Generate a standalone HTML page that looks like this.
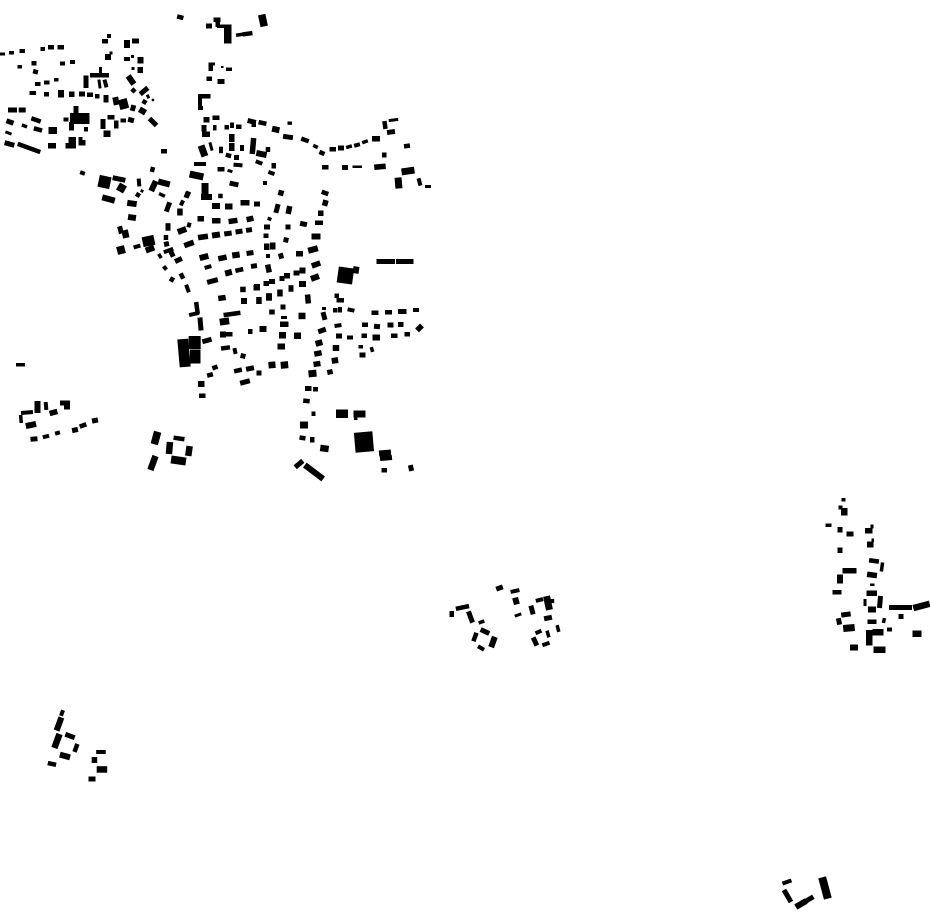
<!DOCTYPE html>
<html><head><meta charset="utf-8"><title>Map</title>
<style>
html,body{margin:0;padding:0;background:#fff}
svg{display:block}
rect{fill:#000;transform-box:fill-box;transform-origin:center}
.a5{transform:rotate(5deg)}.a8{transform:rotate(8deg)}.a12{transform:rotate(12deg)}.a15{transform:rotate(15deg)}.a20{transform:rotate(20deg)}.a25{transform:rotate(25deg)}.a30{transform:rotate(30deg)}.a37{transform:rotate(37deg)}.a45{transform:rotate(45deg)}.a55{transform:rotate(55deg)}
.n5{transform:rotate(-5deg)}.n8{transform:rotate(-8deg)}.n12{transform:rotate(-12deg)}.n15{transform:rotate(-15deg)}.n20{transform:rotate(-20deg)}.n25{transform:rotate(-25deg)}.n30{transform:rotate(-30deg)}.n40{transform:rotate(-40deg)}.n45{transform:rotate(-45deg)}
</style></head><body>
<svg xmlns="http://www.w3.org/2000/svg" width="930" height="924" viewBox="0 0 930 924">
<rect x=0 y=52.5 width=5 height=3 />
<rect x=9 y=51 width=5 height=3.5 />
<rect x=19.5 y=49 width=5.5 height=4 />
<rect x=40.5 y=47 width=4.5 height=4 />
<rect x=48 y=45 width=6 height=4.5 />
<rect x=57.5 y=45 width=6.5 height=4.5 />
<rect x=17.5 y=65 width=4.5 height=3.5 />
<rect x=31.5 y=61 width=5 height=4.5 />
<rect x=33 y=69.5 width=5 height=4.5 class=a15 />
<rect x=35 y=82 width=5.5 height=4 />
<rect x=44 y=80.5 width=5.5 height=4 />
<rect x=54 y=78 width=4.5 height=3.5 />
<rect x=60 y=61.5 width=5 height=4 />
<rect x=70 y=60 width=5 height=4 />
<rect x=29.5 y=91 width=6.5 height=4 />
<rect x=44 y=92 width=5 height=4.5 />
<rect x=58 y=90 width=6 height=7.5 />
<rect x=69 y=91.5 width=5.5 height=5.5 />
<rect x=79 y=91.5 width=6 height=5 />
<rect x=87 y=92.5 width=6 height=4.5 />
<rect x=95 y=94 width=4.5 height=4.5 />
<rect x=103.5 y=95 width=5 height=7.5 />
<rect x=113 y=97 width=6 height=8 class=n12 />
<rect x=119 y=99 width=9 height=10 class=n15 />
<rect x=130.5 y=105 width=5 height=6 class=a15 />
<rect x=139 y=108 width=7 height=6 class=a30 />
<rect x=148 y=119.5 width=10 height=5 class=a45 />
<rect x=83.5 y=75.5 width=5 height=12.5 />
<rect x=99 y=67 width=3 height=7 />
<rect x=90 y=73 width=19 height=4.5 />
<rect x=98 y=79.5 width=3 height=9 class=n8 />
<rect x=103.5 y=79.5 width=4 height=8 class=n15 />
<rect x=102 y=39 width=6 height=4.5 />
<rect x=107 y=34 width=4 height=4 />
<rect x=124 y=40 width=6 height=8 />
<rect x=132 y=38.5 width=7 height=5 />
<rect x=105 y=54 width=6 height=6 />
<rect x=109.5 y=51.5 width=3 height=3 />
<rect x=124 y=57 width=6 height=4 />
<rect x=131 y=55 width=3 height=3 />
<rect x=137.5 y=57 width=6 height=6.5 />
<rect x=131.5 y=67 width=3 height=3 />
<rect x=137.5 y=67 width=5.5 height=6 />
<rect x=126 y=77 width=10 height=6 class=a55 />
<rect x=131.2 y=88.2 width=4.5 height=4.5 class=a45 />
<rect x=139 y=88.5 width=10 height=5 class=n40 />
<rect x=146.5 y=94.5 width=3 height=4 class=n25 />
<rect x=151.7 y=98.7 width=2.5 height=2.5 />
<rect x=142.2 y=99.7 width=4.5 height=4.5 class=a30 />
<rect x=73.5 y=106 width=5 height=7.5 />
<rect x=70 y=113 width=19.5 height=11 />
<rect x=63.5 y=117.5 width=5 height=4 />
<rect x=69 y=122 width=5 height=8.5 />
<rect x=84 y=127 width=4 height=4.5 />
<rect x=68.5 y=137 width=7.5 height=11.5 />
<rect x=65.5 y=143 width=3.5 height=5.5 />
<rect x=78.5 y=137 width=4 height=8.5 />
<rect x=82.5 y=140 width=3 height=5.5 />
<rect x=107.5 y=115 width=7 height=4.5 />
<rect x=100.5 y=119 width=5 height=10 />
<rect x=114 y=120.5 width=4.5 height=8 />
<rect x=103.5 y=130.5 width=7 height=6.5 />
<rect x=120.5 y=118.5 width=5.5 height=4 />
<rect x=128 y=117.5 width=6 height=5 class=a15 />
<rect x=8 y=107.5 width=9 height=5 />
<rect x=18.7 y=107.5 width=7 height=5 />
<rect x=6.2 y=119.5 width=7.5 height=5 class=a20 />
<rect x=31 y=117.7 width=10 height=4.5 class=a20 />
<rect x=21.7 y=124.2 width=5.5 height=3.5 class=a20 />
<rect x=33.7 y=127.2 width=8.5 height=4.5 class=a15 />
<rect x=48.5 y=127 width=8.5 height=7 />
<rect x=5.2 y=131.5 width=6.5 height=3 class=a20 />
<rect x=4.5 y=141.5 width=10 height=5 class=a15 />
<rect x=17 y=145.7 width=24 height=4.5 class=a20 />
<rect x=48 y=143 width=8 height=5.5 />
<rect x=161 y=149 width=6 height=4.5 />
<rect x=80 y=171 width=5 height=4 class=a20 />

<rect x=177 y=15 width=6.5 height=4.5 class=a15 />
<rect x=206 y=23.5 width=6 height=5 />
<rect x=213.5 y=17.5 width=7 height=4.5 />
<rect x=215.5 y=22 width=4.5 height=5 />
<rect x=217 y=24.5 width=8 height=3.5 />
<rect x=224 y=24.5 width=7.5 height=19 />
<rect x=236 y=33 width=7 height=3.5 class=n8 />
<rect x=242.5 y=31.5 width=10 height=4.5 class=n8 />
<rect x=259.2 y=14.5 width=7.5 height=12 class=n12 />
<rect x=208.5 y=62.5 width=4.5 height=8.5 />
<rect x=212 y=62.5 width=3 height=3 />
<rect x=221 y=66 width=2.5 height=2 />
<rect x=226 y=67.5 width=6 height=3.5 />
<rect x=206.5 y=76.5 width=5.5 height=4.5 />
<rect x=217.5 y=79 width=7 height=5 />
<rect x=198 y=94 width=12.5 height=4.5 />
<rect x=198 y=98 width=4 height=8 />
<rect x=198 y=106 width=5 height=4 />
<rect x=203.5 y=117 width=6 height=5.5 />
<rect x=212.5 y=115.5 width=7 height=4.5 />
<rect x=201.5 y=125 width=5 height=6.5 />
<rect x=202 y=131.5 width=8 height=5.5 />
<rect x=213 y=125 width=3.5 height=5.5 />
<rect x=224.5 y=125 width=4.5 height=4.5 />
<rect x=230 y=122.5 width=4 height=5.5 />
<rect x=236 y=124.5 width=5.5 height=4.5 />
<rect x=247.5 y=119 width=8.5 height=5 class=a15 />
<rect x=251.5 y=121 width=4.5 height=6 />
<rect x=258.5 y=120.7 width=8 height=4.5 class=a12 />
<rect x=272 y=126.5 width=7.5 height=6 class=a12 />
<rect x=287.5 y=121.5 width=4.5 height=3.3 />
<rect x=283 y=134.5 width=10 height=5 class=a8 />
<rect x=301 y=137.7 width=8 height=4.5 class=a20 />
<rect x=313 y=144.7 width=5 height=3.5 class=a25 />
<rect x=319.2 y=150.7 width=5.5 height=4.5 class=a25 />
<rect x=329.5 y=147 width=6.5 height=4.5 />
<rect x=338 y=145.5 width=6 height=5 />
<rect x=346 y=145 width=6 height=3.5 class=n15 />
<rect x=354 y=143 width=6 height=4 class=n15 />
<rect x=362 y=140 width=6 height=3.5 class=n20 />
<rect x=372 y=136 width=8 height=5.5 />
<rect x=382.7 y=121 width=4.5 height=8 class=n8 />
<rect x=388.7 y=118.5 width=9.5 height=3 class=n8 />
<rect x=387 y=129.5 width=8 height=5 class=n8 />
<rect x=404 y=143.7 width=6 height=4.5 class=n8 />
<rect x=382 y=152.5 width=4.5 height=5 />
<rect x=322 y=165 width=6.5 height=4.5 />
<rect x=342 y=165 width=6 height=5 />
<rect x=352.5 y=165.5 width=9.5 height=2.5 />
<rect x=374.2 y=164 width=11.5 height=5.5 class=n5 />
<rect x=401.5 y=167.5 width=13 height=7 class=n8 />
<rect x=395 y=177.5 width=7 height=11 class=n5 />
<rect x=417.5 y=178.2 width=4 height=7.5 class=n15 />
<rect x=425 y=185 width=6 height=3 />

<rect x=199.5 y=145.2 width=7 height=11.5 class=n20 />
<rect x=209.5 y=142.2 width=3 height=8.5 class=n15 />
<rect x=219 y=146.7 width=4 height=6.5 />
<rect x=229 y=134 width=5.5 height=8 />
<rect x=229 y=143 width=5.5 height=8 />
<rect x=240 y=145 width=4 height=6 />
<rect x=250.2 y=138 width=5.5 height=16 class=a5 />
<rect x=256.2 y=151 width=10.5 height=6 class=a12 />
<rect x=265.7 y=147 width=4.5 height=5 />
<rect x=225.7 y=153.2 width=5.5 height=4.5 class=a15 />
<rect x=234 y=155 width=5 height=5 />
<rect x=194 y=162 width=12 height=4 />
<rect x=217.5 y=167 width=7 height=4.5 />
<rect x=227.5 y=169.5 width=5 height=3 class=a15 />
<rect x=233.5 y=163 width=9 height=4 class=a5 />
<rect x=255.5 y=160.5 width=7 height=4 class=a20 />
<rect x=271.5 y=163 width=4.5 height=5.5 />
<rect x=268.2 y=171 width=6.5 height=4 class=a20 />
<rect x=263 y=181 width=4 height=4 />
<rect x=229.5 y=181.5 width=9 height=5 class=a12 />
<rect x=189.5 y=172 width=14 height=7 class=a12 />
<rect x=278.2 y=190.2 width=5.5 height=5.5 class=a15 />
<rect x=321.5 y=190.7 width=7 height=4.5 class=a20 />
<rect x=184.5 y=192 width=5 height=6 class=a20 />
<rect x=218.2 y=193.7 width=4.5 height=4.5 />

<rect x=150.2 y=167 width=4.5 height=5 class=a15 />
<rect x=98.5 y=176 width=12 height=12 class=a12 />
<rect x=112.5 y=176.5 width=13 height=5 class=a12 />
<rect x=117.5 y=184 width=8 height=8 class=a30 />
<rect x=102 y=196 width=13 height=6 class=a15 />
<rect x=137 y=178.5 width=4 height=8 class=n5 />
<rect x=140.5 y=189.5 width=3 height=3 class=a30 />
<rect x=135.7 y=192.7 width=4.5 height=4.5 class=a30 />
<rect x=150.5 y=180.5 width=6 height=11 class=a25 />
<rect x=158 y=180 width=12 height=6 class=a15 />
<rect x=158.7 y=193.2 width=6.5 height=3.5 class=a25 />
<rect x=127.2 y=200.5 width=9.5 height=6 class=a8 />
<rect x=128 y=214.5 width=8 height=6 class=a8 />
<rect x=185 y=191.2 width=5 height=6.5 class=a25 />
<rect x=180 y=200.2 width=4 height=5.5 class=a25 />
<rect x=177.2 y=208.5 width=5.5 height=7 />
<rect x=165.5 y=202 width=5 height=10 class=a20 />
<rect x=165.5 y=223.2 width=5 height=7.5 />
<rect x=163.7 y=235 width=4.5 height=5 />
<rect x=164 y=241.5 width=5 height=5 class=n12 />
<rect x=187 y=222.5 width=4 height=5 class=a15 />
<rect x=177.5 y=227.5 width=9 height=6 class=n20 />
<rect x=197.5 y=216 width=6.5 height=5.5 />
<rect x=212 y=218 width=8.5 height=5.5 />
<rect x=228.5 y=218.2 width=9 height=5.5 class=n8 />
<rect x=246.5 y=216.2 width=7 height=5.5 class=n12 />
<rect x=212 y=203 width=8 height=6 />
<rect x=225 y=203.5 width=7.5 height=6 />
<rect x=240.5 y=200 width=9 height=5.5 />
<rect x=254 y=201.5 width=6 height=5 />
<rect x=201.5 y=183 width=7 height=16 />
<rect x=201 y=194 width=11 height=6 />
<rect x=118 y=226.2 width=5 height=7.5 class=n15 />
<rect x=122.2 y=230 width=6.5 height=8 class=n12 />
<rect x=117 y=246 width=8 height=8 class=n15 />
<rect x=133.5 y=244.5 width=7 height=4 class=n15 />
<rect x=142.5 y=236 width=12 height=10 class=n12 />
<rect x=145.5 y=246 width=9 height=6 class=n20 />
<rect x=163.5 y=248.5 width=10 height=4 class=n20 />
<rect x=169.5 y=251 width=5 height=6 class=n25 />
<rect x=174.7 y=257.5 width=7.5 height=5 class=n25 />
<rect x=158.2 y=253.5 width=3.5 height=5 class=n30 />
<rect x=163 y=265.7 width=4 height=4.5 class=n40 />
<rect x=179.7 y=273 width=4.5 height=6 class=n25 />
<rect x=169.7 y=277 width=4.5 height=5 class=a30 />
<rect x=185.5 y=284.5 width=4 height=8 class=n20 />
<rect x=184 y=241.2 width=10 height=5.5 class=n20 />
<rect x=198 y=234.2 width=10 height=5.5 class=n8 />
<rect x=212 y=232 width=8 height=6 class=n8 />
<rect x=224.2 y=231 width=7.5 height=5 class=n8 />
<rect x=235.5 y=229 width=7 height=5 class=n8 />
<rect x=246 y=227.5 width=6 height=5 class=n8 />
<rect x=199.5 y=254 width=9 height=6 class=n15 />
<rect x=218.2 y=255.2 width=8.5 height=5.5 class=n12 />
<rect x=232.2 y=252 width=7.5 height=6 class=n8 />
<rect x=246.5 y=250.5 width=7 height=5 class=n8 />
<rect x=204.5 y=265 width=7 height=4 class=n15 />
<rect x=225 y=269.7 width=7 height=6 class=n15 />
<rect x=235.3 y=267.7 width=8 height=4.5 class=n12 />
<rect x=251 y=263.5 width=6 height=5 class=n8 />
<rect x=207 y=278.5 width=11 height=5 class=n15 />
<rect x=240.2 y=286.7 width=5.5 height=5.5 />
<rect x=254 y=284 width=6 height=6 />
<rect x=218.2 y=295.2 width=7.5 height=5.5 class=n8 />
<rect x=241 y=298 width=6 height=6 />
<rect x=194.7 y=302 width=4.5 height=12 class=n8 />
<rect x=189 y=312 width=10 height=4 class=n12 />
<rect x=223.5 y=311.7 width=17 height=4.5 class=n8 />

<rect x=322.5 y=200 width=5.5 height=6 class=a15 />
<rect x=318 y=210.5 width=5.5 height=5.5 />
<rect x=315 y=220.5 width=8 height=4.5 />
<rect x=311.5 y=233.5 width=9 height=6 />
<rect x=308 y=246.5 width=10 height=6 class=n15 />
<rect x=311.5 y=261.7 width=9 height=5.5 class=n20 />
<rect x=310.7 y=274.5 width=8.5 height=6 class=n20 />
<rect x=274.5 y=204 width=5 height=9 class=a15 />
<rect x=286.2 y=206 width=5.5 height=8 class=a12 />
<rect x=267.5 y=217.2 width=4 height=3.5 class=a20 />
<rect x=300 y=221.5 width=7 height=5 class=a12 />
<rect x=264 y=224.5 width=6 height=5 />
<rect x=285.5 y=224.5 width=5 height=5 />
<rect x=263.5 y=233.5 width=5 height=4.5 />
<rect x=283.5 y=237.5 width=5 height=5 class=a12 />
<rect x=264 y=243.5 width=5.5 height=6.5 />
<rect x=270 y=242.5 width=5.5 height=7 />
<rect x=266 y=254 width=4 height=4 />
<rect x=278.5 y=253.2 width=5 height=5.5 class=n15 />
<rect x=296 y=251 width=7 height=5.5 />
<rect x=265.7 y=264.5 width=5.5 height=8 class=n12 />
<rect x=253.5 y=285 width=6.5 height=5.5 />
<rect x=263.5 y=281 width=5.5 height=5 />
<rect x=269 y=279 width=6 height=5 />
<rect x=279.5 y=276 width=5 height=5 />
<rect x=284 y=273 width=6 height=5.5 />
<rect x=293.5 y=270.5 width=6 height=5 />
<rect x=299.5 y=267.5 width=6 height=6 />
<rect x=299 y=281 width=7 height=6 />
<rect x=288.5 y=285.2 width=5 height=6.5 />
<rect x=277.2 y=289.5 width=5.5 height=7 />
<rect x=266 y=293.2 width=6 height=7.5 />
<rect x=256.2 y=297 width=5.5 height=7 />
<rect x=305.2 y=294.5 width=5.5 height=9 class=n5 />
<rect x=269.2 y=309.5 width=5.5 height=5 />
<rect x=280.5 y=304.5 width=5 height=5 />
<rect x=298.5 y=312.7 width=7 height=6.5 />
<rect x=281 y=316 width=6 height=3 />
<rect x=337.7 y=267.5 width=15.5 height=16 class=a8 />
<rect x=353 y=266.5 width=6 height=7 class=a8 />
<rect x=376.5 y=259 width=18.5 height=5 />
<rect x=396 y=259 width=17.5 height=5 />
<rect x=334.5 y=293.5 width=4.5 height=4.5 />
<rect x=336.5 y=298 width=7.5 height=4.5 />
<rect x=322 y=307 width=4 height=3 />
<rect x=321.5 y=312 width=5 height=8 class=n15 />
<rect x=333 y=308 width=4.5 height=4.5 />
<rect x=338 y=307 width=4 height=5.5 />
<rect x=347.5 y=308 width=7 height=4 class=a12 />
<rect x=371.5 y=310.5 width=7 height=4.5 />
<rect x=385 y=310 width=7 height=4.5 />
<rect x=398 y=309 width=8.5 height=5 />
<rect x=413 y=308 width=6 height=4 />

<rect x=198 y=317.5 width=5 height=13 class=n5 />
<rect x=219.7 y=318 width=9.5 height=7 class=n8 />
<rect x=220 y=331.5 width=6 height=6 />
<rect x=226 y=332 width=6.5 height=4.5 />
<rect x=202.2 y=338 width=9.5 height=5 class=n15 />
<rect x=188.7 y=336 width=12 height=13 />
<rect x=190 y=349.5 width=10.5 height=14 />
<rect x=178.5 y=339 width=11 height=28 class=n5 />
<rect x=221 y=345.7 width=9 height=4.5 class=n8 />
<rect x=233 y=348 width=4 height=6 class=n12 />
<rect x=240.5 y=353.5 width=5 height=5 class=a15 />
<rect x=212.2 y=365.2 width=5.5 height=4.5 class=n20 />
<rect x=207 y=372.7 width=6 height=4.5 class=n15 />
<rect x=248 y=329 width=4.5 height=5 />
<rect x=259.5 y=326 width=7 height=6 />
<rect x=280 y=321.5 width=8.5 height=5.5 />
<rect x=279 y=332 width=7 height=6.5 />
<rect x=277.5 y=343.5 width=7.5 height=6 />
<rect x=294 y=332.5 width=7 height=6.5 />
<rect x=198 y=381 width=6.5 height=6 />
<rect x=199 y=393.5 width=6.5 height=4.5 />
<rect x=234 y=368.2 width=8 height=4.5 class=n12 />
<rect x=246 y=366 width=8 height=5 class=n12 />
<rect x=256.5 y=370.5 width=5 height=5 />
<rect x=268.5 y=361.7 width=7 height=6.5 class=n5 />
<rect x=280.7 y=361.5 width=7.5 height=7 class=n5 />
<rect x=240 y=379.5 width=10 height=5 class=n15 />
<rect x=334.5 y=323.5 width=7 height=4 class=n8 />
<rect x=336 y=333.5 width=6 height=5 />
<rect x=347 y=335.5 width=6 height=4 />
<rect x=318 y=328 width=8 height=5 class=n20 />
<rect x=315.5 y=340 width=7 height=6 class=n15 />
<rect x=314.2 y=350.7 width=7.5 height=5.5 class=n12 />
<rect x=332.7 y=345 width=6.5 height=6 />
<rect x=313.5 y=361.2 width=7 height=5.5 class=n8 />
<rect x=331.7 y=357.5 width=6.5 height=6 class=n8 />
<rect x=308.5 y=370 width=8 height=7 class=n5 />
<rect x=327.2 y=369.5 width=5.5 height=5 class=n12 />
<rect x=305 y=386 width=6.5 height=5 />
<rect x=313 y=387 width=5 height=4.5 />
<rect x=303.2 y=398.7 width=6.5 height=4.5 class=a5 />
<rect x=311.5 y=411.5 width=4 height=4.5 />
<rect x=336 y=409.5 width=12 height=8.5 />
<rect x=353.5 y=410.5 width=12 height=7 />
<rect x=354 y=417 width=3.5 height=3 />
<rect x=300 y=421.5 width=8 height=7 />
<rect x=299.5 y=435.7 width=6 height=4.5 class=a8 />
<rect x=310 y=437 width=4.5 height=5.5 />
<rect x=320.2 y=445.2 width=8.5 height=6.5 class=a8 />
<rect x=354.7 y=432 width=18.5 height=20 class=n5 />
<rect x=379 y=450 width=12 height=6 class=n5 />
<rect x=380 y=455.5 width=12 height=5 class=n5 />
<rect x=381.5 y=468 width=5.5 height=4.5 />
<rect x=408.5 y=465 width=5 height=6 class=n12 />
<rect x=294 y=461.5 width=10 height=5 class=n40 />
<rect x=302.5 y=469 width=23 height=6 class=a37 />
<rect x=362 y=322.5 width=6 height=4.5 />
<rect x=374 y=324 width=6 height=5 class=a5 />
<rect x=387.5 y=322.5 width=6 height=5 />
<rect x=398 y=322 width=5.5 height=5 />
<rect x=416 y=325.2 width=7 height=5.5 class=n45 />
<rect x=361.5 y=333.5 width=5.5 height=4.5 />
<rect x=372.5 y=334.5 width=7.5 height=6 />
<rect x=391 y=333.5 width=6.5 height=4.5 />
<rect x=404.5 y=332 width=5.5 height=4.5 />
<rect x=358.5 y=345 width=4.5 height=3.5 />
<rect x=359.5 y=352.5 width=6 height=5 />
<rect x=370.2 y=347 width=3.5 height=5 class=n15 />

<rect x=16 y=363 width=9 height=3.5 />
<rect x=21 y=410.5 width=12 height=4 class=n5 />
<rect x=19.2 y=415 width=3.5 height=8 class=n5 />
<rect x=34.5 y=401 width=6 height=12 />
<rect x=44 y=402 width=4 height=8 class=n5 />
<rect x=49.5 y=409.7 width=8 height=5.5 class=n15 />
<rect x=60 y=400.5 width=10 height=5 />
<rect x=64 y=405 width=6 height=4.5 />
<rect x=25.7 y=422 width=10.5 height=6 class=n12 />
<rect x=30.5 y=436.5 width=7 height=5 class=n5 />
<rect x=42.7 y=434.5 width=6.5 height=4 class=n15 />
<rect x=55 y=431 width=5 height=4 class=n15 />
<rect x=72 y=427.5 width=6 height=5 class=n12 />
<rect x=79.5 y=423.2 width=7 height=4.5 class=n20 />
<rect x=92 y=418 width=6 height=5 class=n12 />
<rect x=152.2 y=431.5 width=7.5 height=13 class=a15 />
<rect x=149.7 y=455.5 width=6.5 height=15 class=a20 />
<rect x=173.5 y=436.2 width=11 height=4.5 class=a8 />
<rect x=166.2 y=442 width=6.5 height=12 class=a5 />
<rect x=185.7 y=446 width=6.5 height=10 class=a8 />
<rect x=171 y=456.5 width=15 height=8 class=a8 />

<rect x=841.5 y=498 width=4 height=3.5 />
<rect x=838.5 y=505.5 width=4 height=4 />
<rect x=841 y=508 width=6.5 height=7.5 />
<rect x=825.5 y=523.5 width=6 height=3.5 />
<rect x=837.5 y=527 width=5 height=5.5 />
<rect x=846.5 y=531.5 width=7 height=5 />
<rect x=865 y=528 width=7.5 height=5.5 />
<rect x=870.5 y=524.5 width=3 height=4 />
<rect x=867 y=541.5 width=6.5 height=6 />
<rect x=871.5 y=538.5 width=2.5 height=3.5 />
<rect x=837.5 y=547.5 width=5 height=5.5 />
<rect x=869 y=558.7 width=10 height=4.5 class=a8 />
<rect x=880.2 y=562.5 width=3.5 height=9 class=a8 />
<rect x=842.5 y=568 width=14 height=5.5 />
<rect x=837 y=574.5 width=6 height=9 />
<rect x=867 y=572.2 width=10 height=5.5 class=a8 />
<rect x=870 y=583.5 width=4.5 height=2.5 />
<rect x=832.5 y=590 width=9 height=4.5 />
<rect x=866.5 y=590.5 width=10.5 height=5.5 />
<rect x=863.5 y=599 width=3 height=7 />
<rect x=877.5 y=596 width=5 height=12 class=a5 />
<rect x=868 y=606.5 width=8 height=6 />
<rect x=889 y=605 width=23 height=5 />
<rect x=913 y=602.7 width=17 height=6.5 class=n15 />
<rect x=841.2 y=612 width=9.5 height=5 class=n8 />
<rect x=836.5 y=618.2 width=5 height=6.5 class=n12 />
<rect x=843.2 y=624.5 width=11.5 height=7 class=n5 />
<rect x=867.5 y=619.5 width=9 height=4.5 />
<rect x=882.2 y=618 width=3.5 height=5 class=a12 />
<rect x=898.5 y=614 width=5 height=5 />
<rect x=887 y=627.5 width=5 height=4 />
<rect x=872.5 y=629 width=11 height=6.5 />
<rect x=866 y=630 width=6.5 height=15.5 />
<rect x=912.5 y=630.5 width=9 height=6.5 />
<rect x=850 y=644.5 width=8 height=6 />
<rect x=873.5 y=646.5 width=12 height=6.5 />

<rect x=449.5 y=611 width=4.5 height=6 />
<rect x=455.7 y=605.2 width=13.5 height=4.5 class=n12 />
<rect x=468 y=611 width=5 height=12 class=n20 />
<rect x=478.5 y=620.2 width=6 height=3.5 class=n20 />
<rect x=480.2 y=629 width=9.5 height=5 class=a25 />
<rect x=472.7 y=632.5 width=4.5 height=9 class=a20 />
<rect x=490 y=636.5 width=6 height=11 class=a20 />
<rect x=477.5 y=646 width=7 height=4 class=a30 />
<rect x=496 y=585.5 width=7 height=5 class=n20 />
<rect x=510.5 y=589 width=9 height=4 class=n12 />
<rect x=513 y=597.5 width=6 height=7 class=n15 />
<rect x=514.5 y=613.5 width=7 height=3 class=n20 />
<rect x=529.5 y=605.5 width=5 height=9 class=n15 />
<rect x=535.7 y=598 width=7.5 height=4 class=n15 />
<rect x=544.5 y=596 width=7 height=14 class=n12 />
<rect x=549.7 y=599 width=4.5 height=4 />
<rect x=544 y=615.5 width=8 height=5 class=n12 />
<rect x=535.2 y=630 width=6.5 height=4 class=n25 />
<rect x=532.5 y=637 width=5 height=9 class=n25 />
<rect x=546.2 y=630.5 width=3.5 height=7 class=n15 />
<rect x=542.2 y=642 width=7.5 height=4 class=n20 />
<rect x=556.2 y=625 width=3.5 height=7 class=n15 />

<rect x=60 y=710 width=4 height=6 class=a20 />
<rect x=56 y=717 width=6 height=14 class=a20 />
<rect x=53.7 y=733.5 width=6.5 height=15 class=a20 />
<rect x=65 y=733.5 width=10 height=5 class=a20 />
<rect x=73.7 y=743.7 width=4.5 height=8.5 class=a20 />
<rect x=59.7 y=753 width=10.5 height=6 class=a15 />
<rect x=47.7 y=761.7 width=8.5 height=4.5 class=a12 />
<rect x=96.2 y=750 width=9.5 height=4 />
<rect x=91.7 y=757 width=5.5 height=6 />
<rect x=96.7 y=766.2 width=10.5 height=6.5 />
<rect x=88.5 y=776.5 width=7 height=5 />

<rect x=782.2 y=880 width=9.5 height=4 class=n20 />
<rect x=785 y=889 width=5 height=14 class=n30 />
<rect x=795 y=901 width=12 height=6 class=n30 />
<rect x=805 y=896.5 width=9 height=5 class=n30 />
<rect x=821 y=877 width=8 height=22 class=n15 />
</svg>
</body></html>
